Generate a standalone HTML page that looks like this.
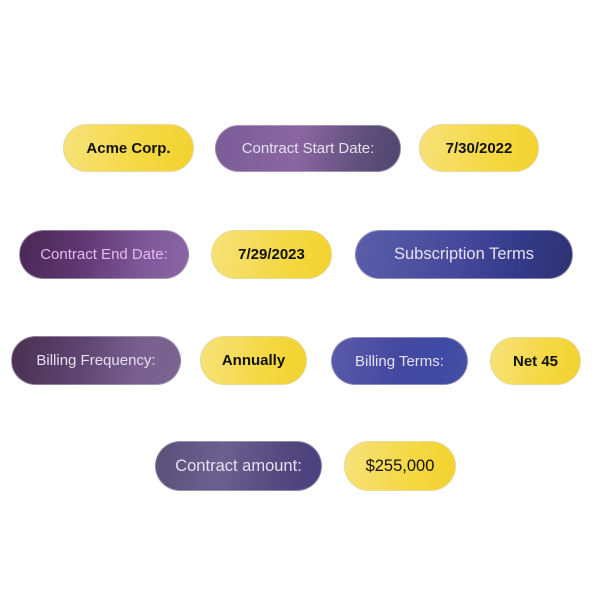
<!DOCTYPE html>
<html><head><style>
body{margin:0;width:596px;height:595px;background:#fff;position:relative;overflow:hidden;font-family:"Liberation Sans",sans-serif}
.p{position:absolute;border-radius:26px;display:flex;align-items:center;justify-content:center;box-sizing:border-box;font-size:15px;white-space:nowrap}
.y{background:linear-gradient(100deg,#f7e27a 0%,#f4d843 60%,#f2d22e 100%);border:1px solid #e6d9a0;color:#111;font-weight:bold}
.d{color:#e6e0f0;border:1px solid rgba(200,200,210,.5)}
</style></head><body>
<div class="p y" style="left:63px;top:124px;width:131px;height:48px">Acme Corp.</div>
<div class="p d" style="left:215px;top:125px;width:186px;height:47px;background:linear-gradient(100deg,#7a5c98,#8a66a0 45%,#5e4f7a 80%,#4f4670)">Contract Start Date:</div>
<div class="p y" style="left:419px;top:124px;width:120px;height:48px">7/30/2022</div>

<div class="p d" style="left:19px;top:230px;width:170px;height:49px;background:linear-gradient(100deg,#4a2856,#5e3670 35%,#7f5a9a 75%,#8a66a5);color:#e8b8f0">Contract End Date:</div>
<div class="p y" style="left:211px;top:230px;width:121px;height:49px">7/29/2023</div>
<div class="p d" style="left:355px;top:230px;width:218px;height:49px;background:linear-gradient(100deg,#5a5ea8,#45479a 50%,#343a8a 75%,#2e3270);font-size:16.5px">Subscription Terms</div>

<div class="p d" style="left:11px;top:336px;width:170px;height:49px;background:linear-gradient(100deg,#4a3050,#5e4470 40%,#7a6090 75%,#7a6490)">Billing Frequency:</div>
<div class="p y" style="left:200px;top:336px;width:107px;height:49px">Annually</div>
<div class="p d" style="left:331px;top:337px;width:137px;height:48px;background:linear-gradient(100deg,#5a5aa8,#4448a0 50%,#3f4aa5 80%,#4850a0)">Billing Terms:</div>
<div class="p y" style="left:490px;top:337px;width:91px;height:48px">Net 45</div>

<div class="p d" style="left:155px;top:441px;width:167px;height:50px;background:linear-gradient(100deg,#5a5078,#6c6090 40%,#54487e 75%,#4a4080);font-size:16.5px">Contract amount:</div>
<div class="p y" style="left:344px;top:441px;width:112px;height:50px;font-weight:normal;font-size:16.5px">$255,000</div>
</body></html>
